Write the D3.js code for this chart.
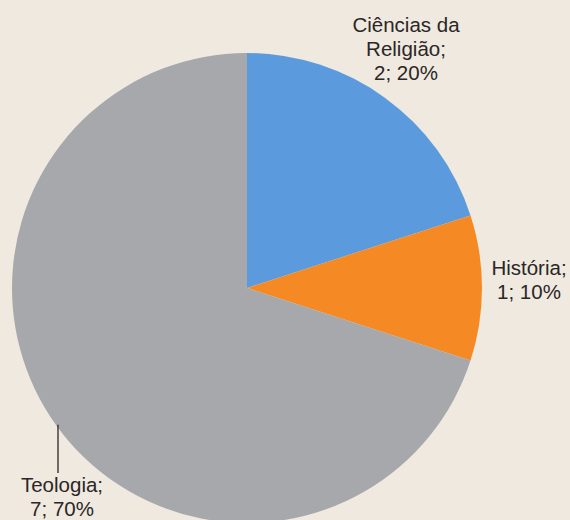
<!DOCTYPE html>
<html>
<head>
<meta charset="utf-8">
<script src="https://cdn.jsdelivr.net/npm/d3@7"></script>
<style>
  html, body { margin: 0; padding: 0; background: #efe9df; }
  svg { display: block; }
  .lbl { font-family: "Liberation Sans", Arial, sans-serif; font-size: 20.5px; fill: #2a2726; }
</style>
</head>
<body>
<div id="chart"></div>
<script>
// Chart data
const categories = ['Ciências da Religião', 'História', 'Teologia'];
const counts = [2, 1, 7];
const percents = ['20%', '10%', '70%'];
const colors = ['#5b9bdd', '#f58a25', '#a7a8ab'];

const width = 570, height = 520;
const cx = 247, cy = 288, radius = 235;

const svg = d3.select('#chart')
    .append('svg')
    .attr('width', width)
    .attr('height', height);

const g = svg.append('g')
    .attr('transform', `translate(${cx},${cy})`);

const pie = d3.pie().sort(null).value(d => d.value);
const data = categories.map((c, i) => ({ name: c, value: counts[i], pct: percents[i], color: colors[i] }));
const arcs = pie(data);

const arc = d3.arc().innerRadius(0).outerRadius(radius);

g.selectAll('path.slice')
    .data(arcs)
    .enter()
    .append('path')
    .attr('class', 'slice')
    .attr('d', arc)
    .attr('fill', d => d.data.color);

// Label lines (text split as in the original)
const labelLines = [
    ['Ciências da', 'Religião;', `${counts[0]}; ${percents[0]}`],
    ['História;', `${counts[1]}; ${percents[1]}`],
    ['Teologia;', `${counts[2]}; ${percents[2]}`]
];

const lineH = 24;

arcs.forEach((d, i) => {
    let x, firstBaseline;

    if (i === 0) {
        x = 159;
        firstBaseline = -256;
    } else if (i === 1) {
        x = 282;
        firstBaseline = -13;
    } else {
        // leader line from the slice edge down to the label
        const lx = -189;
        const edgeY = Math.sqrt(radius * radius - lx * lx);
        g.append('line')
            .attr('x1', lx).attr('x2', lx)
            .attr('y1', edgeY - 3).attr('y2', 185)
            .attr('stroke', '#2a2726')
            .attr('stroke-width', 1.3);
        x = -185;
        firstBaseline = 204;
    }

    const t = g.append('text')
        .attr('class', 'lbl')
        .attr('text-anchor', 'middle');
    labelLines[i].forEach((line, j) => {
        t.append('tspan')
            .attr('x', x)
            .attr('y', firstBaseline + j * lineH)
            .text(line);
    });
});
</script>
</body>
</html>
